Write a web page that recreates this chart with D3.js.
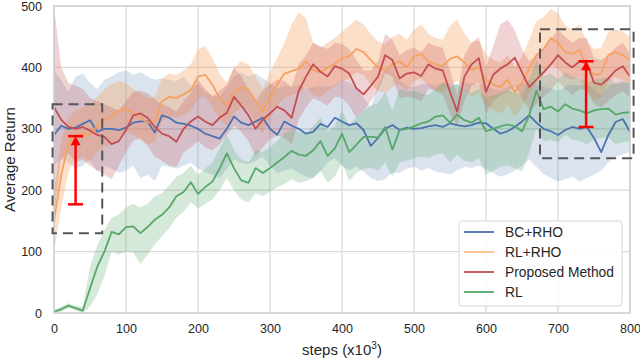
<!DOCTYPE html>
<html>
<head>
<meta charset="utf-8">
<script src="https://cdn.jsdelivr.net/npm/d3@7"></script>
<style>
  body { margin: 0; background: #fff; }
  svg { font-family: "Liberation Sans", Arial, sans-serif; }
</style>
</head>
<body>
<svg width="640" height="360"></svg>
<script>
(function(){
  'use strict';

  var WIDTH = 640;
  var HEIGHT = 360;

  var padding = { top: 6, bottom: 47, left: 54, right: 10 };

  // steps in thousands, one sample every 10k
  var steps = d3.range(0, 801, 10);

  var xTicks = [0, 100, 200, 300, 400, 500, 600, 700, 800];
  var yTicks = [0, 100, 200, 300, 400, 500];

  var seriesNames = ['BC+RHO', 'RL+RHO', 'Proposed Method', 'RL'];

  var bcRho = [290,305,300,302,308,314,295,300,300,298,302,310,312,312,294,322,318,310,308,305,
    300,292,288,284,300,320,310,306,312,318,300,290,312,305,300,292,295,308,303,318,
    312,306,309,298,272,285,300,306,298,302,300,301,304,306,303,309,306,304,306,310,
    309,300,292,296,303,312,322,310,300,296,290,298,303,300,303,285,262,290,311,316,295];
  var bcRhoLow = [240,250,245,235,240,250,230,240,235,228,232,240,220,225,215,240,238,235,240,245,
    235,230,225,220,235,250,245,242,248,255,240,228,232,235,228,222,220,230,245,252,
    240,232,238,230,220,215,218,229,228,235,238,232,236,230,228,226,232,238,236,240,
    235,228,222,226,232,240,250,238,226,220,214,218,222,214,220,225,232,245,255,258,262];
  var bcRhoHigh = [395,380,360,385,390,375,365,380,385,392,395,388,392,385,380,382,380,378,385,370,
    372,360,355,352,368,385,392,385,390,382,375,365,370,368,372,365,368,370,368,372,
    380,375,368,350,335,370,398,399,378,370,368,372,374,370,376,374,372,376,374,372,
    370,365,362,368,370,375,380,372,368,366,362,368,372,370,372,365,355,370,375,378,372];

  var rlRho = [150,225,275,290,293,290,305,315,320,330,332,326,318,310,312,345,352,350,356,363,
    385,388,372,350,338,360,368,364,345,328,352,372,390,394,398,410,396,392,400,406,
    415,418,430,425,412,400,395,405,410,400,418,422,410,405,402,414,418,408,396,400,
    380,372,368,380,360,375,398,420,430,448,440,425,422,428,400,388,390,420,425,420,412];
  var rlRhoLow = [100,170,230,250,255,245,262,270,275,285,295,290,282,275,278,312,320,318,322,330,
    350,352,335,315,305,325,335,330,310,292,318,338,350,355,358,368,355,352,362,370,
    378,382,392,388,372,362,358,368,372,362,378,382,370,362,360,372,378,366,352,358,
    340,330,325,338,320,335,358,378,388,405,398,385,380,385,360,348,350,378,384,380,372];
  var rlRhoHigh = [200,280,320,330,335,340,352,365,372,378,375,365,358,350,352,382,390,388,395,405,
    430,435,415,390,375,400,410,405,385,365,392,415,440,470,490,480,440,432,440,448,
    458,468,478,470,455,442,438,450,455,445,462,470,455,448,445,468,478,455,440,444,
    422,412,408,420,400,418,445,475,482,495,488,468,462,470,442,430,432,458,462,458,450];

  var proposed = [335,315,303,300,303,297,290,287,275,280,298,322,325,318,303,292,288,279,300,312,
    320,312,306,318,326,352,338,322,300,315,325,336,330,318,362,385,405,393,385,402,
    398,390,366,356,370,385,420,412,382,390,392,386,405,398,395,360,328,385,405,415,
    360,388,398,405,416,392,368,380,392,405,420,408,400,410,407,375,372,382,395,402,385];
  var proposedLow = [160,250,260,245,250,240,232,225,218,240,262,280,285,272,255,248,240,238,262,270,
    280,270,265,275,290,305,295,280,255,270,282,290,285,275,315,335,350,345,338,352,
    350,338,318,330,345,362,390,385,350,352,350,345,365,362,355,325,305,345,370,375,
    325,345,355,360,370,350,330,340,352,362,378,365,355,365,362,340,335,345,355,362,350];
  var proposedHigh = [500,400,375,370,365,350,345,340,335,330,345,360,362,358,348,340,335,328,345,358,
    380,365,352,362,372,400,385,365,345,362,372,380,378,368,405,420,440,435,430,440,
    438,430,412,395,395,410,455,445,420,428,432,425,440,435,432,395,355,420,440,450,
    400,435,470,478,460,430,410,418,432,445,462,450,440,448,448,415,412,420,432,440,422];

  var rl = [2,6,12,8,4,40,75,100,132,128,140,141,130,140,152,160,172,190,197,213,
    194,205,214,235,260,236,216,212,236,228,236,245,254,264,258,256,265,280,256,268,
    292,262,274,287,287,286,303,266,298,300,304,309,312,320,322,310,323,314,310,318,
    296,300,304,307,304,296,322,362,332,336,328,340,333,330,325,330,332,333,323,326,327];
  var rlLow = [0,2,8,4,0,10,30,60,100,95,100,98,80,95,112,125,138,155,165,180,
    170,178,185,200,220,200,185,180,195,190,198,205,210,218,212,215,220,232,212,222,
    245,215,228,235,236,232,245,222,245,248,252,255,252,258,260,245,258,248,245,252,
    225,232,238,240,236,230,262,300,280,282,278,290,282,280,275,282,285,286,275,278,280];
  var rlHigh = [6,10,16,12,10,75,110,135,155,160,172,178,172,178,190,195,208,222,228,240,
    225,235,245,268,290,265,250,245,265,262,270,280,292,300,295,292,305,318,295,305,
    330,305,318,330,338,342,360,330,365,360,362,358,355,365,375,368,372,365,358,365,
    350,355,358,362,360,355,380,412,385,390,380,392,385,382,375,380,382,385,372,375,375];

  var colors = ['#4c72b0', '#f5a261', '#c44e52', '#55a868'];
  var bandOpacity = [0.2, 0.35, 0.25, 0.25];

  // annotation boxes and gap arrows, in data units
  var boxes = [
    { x0: -2, x1: 67, y0: 130, y1: 340 },
    { x0: 675, x1: 805, y0: 252, y1: 462 }
  ];
  var gaps = [
    { x: 30, from: 177, to: 288 },
    { x: 739, from: 303, to: 410 }
  ];

  var series = [
    { name: seriesNames[0], mean: bcRho, low: bcRhoLow, high: bcRhoHigh },
    { name: seriesNames[1], mean: rlRho, low: rlRhoLow, high: rlRhoHigh },
    { name: seriesNames[2], mean: proposed, low: proposedLow, high: proposedHigh },
    { name: seriesNames[3], mean: rl, low: rlLow, high: rlHigh }
  ];

  var svg = d3.select('svg');

  var xScale = d3.scaleLinear()
    .domain([0, 800])
    .range([padding.left, WIDTH - padding.right]);

  var yScale = d3.scaleLinear()
    .domain([0, 500])
    .range([HEIGHT - padding.bottom, padding.top]);

  svg.append('defs').append('clipPath')
    .attr('id', 'plot-clip')
    .append('rect')
    .attr('x', padding.left)
    .attr('y', padding.top)
    .attr('width', WIDTH - padding.left - padding.right)
    .attr('height', HEIGHT - padding.top - padding.bottom);

  // grid
  svg.append('g')
    .selectAll('line')
    .data(xTicks)
    .enter()
    .append('line')
    .attr('x1', function(d) { return xScale(d); })
    .attr('x2', function(d) { return xScale(d); })
    .attr('y1', padding.top)
    .attr('y2', HEIGHT - padding.bottom)
    .attr('stroke', '#d9d9d9')
    .attr('stroke-width', 1.2);

  svg.append('g')
    .selectAll('line')
    .data(yTicks)
    .enter()
    .append('line')
    .attr('x1', padding.left)
    .attr('x2', WIDTH - padding.right)
    .attr('y1', function(d) { return yScale(d); })
    .attr('y2', function(d) { return yScale(d); })
    .attr('stroke', '#d9d9d9')
    .attr('stroke-width', 1.2);

  var plot = svg.append('g').attr('clip-path', 'url(#plot-clip)');

  var area = d3.area()
    .x(function(d) { return xScale(d.step); })
    .y0(function(d) { return yScale(d.low); })
    .y1(function(d) { return yScale(d.high); });

  var line = d3.line()
    .x(function(d) { return xScale(d.step); })
    .y(function(d) { return yScale(d.mean); });

  series.forEach(function(s, i) {
    var rows = steps.map(function(st, j) {
      return { step: st, mean: s.mean[j], low: s.low[j], high: s.high[j] };
    });
    plot.append('path')
      .datum(rows)
      .attr('d', area)
      .attr('fill', colors[i])
      .attr('fill-opacity', bandOpacity[i])
      .attr('stroke', 'none');
  });

  series.forEach(function(s, i) {
    var rows = steps.map(function(st, j) {
      return { step: st, mean: s.mean[j] };
    });
    plot.append('path')
      .datum(rows)
      .attr('d', line)
      .attr('fill', 'none')
      .attr('stroke', colors[i])
      .attr('stroke-width', 1.8)
      .attr('stroke-linejoin', 'round');
  });

  // frame
  svg.append('rect')
    .attr('x', padding.left)
    .attr('y', padding.top)
    .attr('width', WIDTH - padding.left - padding.right)
    .attr('height', HEIGHT - padding.top - padding.bottom)
    .attr('fill', 'none')
    .attr('stroke', '#cfcfcf')
    .attr('stroke-width', 1.5);

  // axes
  var xAxis = svg.append('g')
    .attr('transform', 'translate(0,' + (HEIGHT - padding.bottom) + ')')
    .call(d3.axisBottom(xScale).tickValues(xTicks).tickSize(0).tickPadding(11));
  var yAxis = svg.append('g')
    .attr('transform', 'translate(' + padding.left + ',0)')
    .call(d3.axisLeft(yScale).tickValues(yTicks).tickSize(0).tickPadding(12));

  [xAxis, yAxis].forEach(function(ax) {
    ax.select('.domain').remove();
    ax.selectAll('text')
      .attr('fill', '#262626')
      .style('font-size', '12.5px')
      .style('font-family', '"Liberation Sans", Arial, sans-serif');
  });

  svg.append('text')
    .attr('transform', 'translate(15,' + ((padding.top + HEIGHT - padding.bottom) / 2) + ') rotate(-90)')
    .attr('text-anchor', 'middle')
    .attr('fill', '#262626')
    .style('font-size', '15px')
    .text('Average Return');

  var xl = svg.append('text')
    .attr('x', (padding.left + WIDTH - padding.right) / 2)
    .attr('y', 355)
    .attr('text-anchor', 'middle')
    .attr('fill', '#262626')
    .style('font-size', '15px');
  xl.append('tspan').text('steps (x10');
  xl.append('tspan').attr('dy', -6).style('font-size', '10px').text('3');
  xl.append('tspan').attr('dy', 6).text(')');

  // dashed boxes
  svg.append('g')
    .selectAll('rect')
    .data(boxes)
    .enter()
    .append('rect')
    .attr('x', function(d) { return xScale(d.x0); })
    .attr('y', function(d) { return yScale(d.y1); })
    .attr('width', function(d) { return xScale(d.x1) - xScale(d.x0); })
    .attr('height', function(d) { return yScale(d.y0) - yScale(d.y1); })
    .attr('fill', 'none')
    .attr('stroke', '#555')
    .attr('stroke-width', 2)
    .attr('stroke-dasharray', '10,6');

  // red gap arrows
  var g = svg.append('g').selectAll('g').data(gaps).enter().append('g');
  g.append('line')
    .attr('x1', function(d) { return xScale(d.x); })
    .attr('x2', function(d) { return xScale(d.x); })
    .attr('y1', function(d) { return yScale(d.from); })
    .attr('y2', function(d) { return yScale(d.to) + 6; })
    .attr('stroke', '#ff0000')
    .attr('stroke-width', 2.5);
  g.append('line')
    .attr('x1', function(d) { return xScale(d.x) - 7.5; })
    .attr('x2', function(d) { return xScale(d.x) + 7.5; })
    .attr('y1', function(d) { return yScale(d.from); })
    .attr('y2', function(d) { return yScale(d.from); })
    .attr('stroke', '#ff0000')
    .attr('stroke-width', 2.5);
  g.append('line')
    .attr('x1', function(d) { return xScale(d.x) - 7.5; })
    .attr('x2', function(d) { return xScale(d.x) + 7.5; })
    .attr('y1', function(d) { return yScale(d.to); })
    .attr('y2', function(d) { return yScale(d.to); })
    .attr('stroke', '#ff0000')
    .attr('stroke-width', 2.5);
  g.append('path')
    .attr('d', function(d) {
      var x = xScale(d.x), y = yScale(d.to);
      return 'M' + x + ',' + y + 'L' + (x - 5) + ',' + (y + 9) + 'L' + (x + 5) + ',' + (y + 9) + 'Z';
    })
    .attr('fill', '#ff0000');

  // legend
  var legend = svg.append('g').attr('transform', 'translate(459,221)');
  legend.append('rect')
    .attr('width', 163)
    .attr('height', 85)
    .attr('rx', 3)
    .attr('fill', '#fff')
    .attr('fill-opacity', 0.85)
    .attr('stroke', '#d6d6d6');
  var items = legend.selectAll('g.item')
    .data(seriesNames)
    .enter()
    .append('g')
    .attr('class', 'item')
    .attr('transform', function(d, i) { return 'translate(0,' + (11 + i * 20) + ')'; });
  items.append('line')
    .attr('x1', 5).attr('x2', 35)
    .attr('stroke', function(d, i) { return i === 1 ? '#fcc08e' : colors[i]; })
    .attr('stroke-width', 1.8);
  items.append('text')
    .attr('x', 46)
    .attr('dy', '0.35em')
    .attr('fill', '#262626')
    .style('font-size', '13.8px')
    .text(function(d) { return d; });
})();
</script>
</body>
</html>
